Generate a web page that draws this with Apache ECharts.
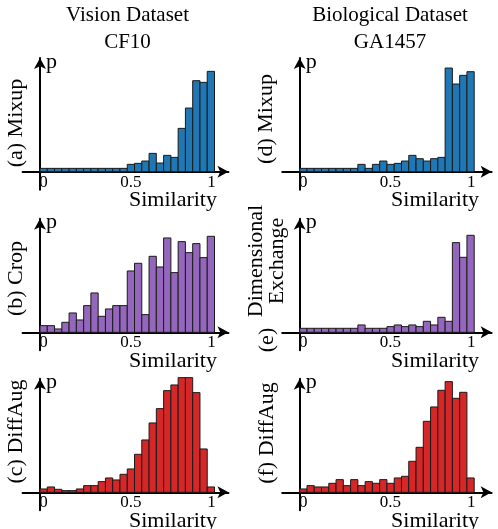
<!DOCTYPE html>
<html>
<head>
<meta charset="utf-8">
<script src="https://cdn.jsdelivr.net/npm/echarts@6/dist/echarts.min.js"></script>
<style>
html, body { margin: 0; padding: 0; background: #fff; }
#chart01 { width: 498px; height: 529px; }
</style>
</head>
<body>
<div id="chart01"></div>
<script>
// histogram heights (relative units), 24 equal bins over similarity 0..1
var binCount = 24;
var cf10Mixup     = [10, 10, 10, 10, 10, 10, 10, 10, 10, 10, 10, 10, 22, 25, 32, 55, 26, 49, 43, 130, 191, 273, 268, 301];
var cf10Crop      = [20, 20, 10, 30, 58, 37, 80, 118, 48, 70, 80, 80, 184, 207, 53, 228, 196, 283, 179, 272, 239, 266, 224, 288];
var cf10DiffAug   = [10, 16, 9, 5, 5, 10, 20, 20, 32, 43, 37, 54, 70, 114, 157, 208, 251, 305, 322, 344, 344, 299, 130, 16];
var ga1457Mixup   = [10, 10, 10, 10, 10, 10, 10, 10, 22, 10, 22, 32, 22, 25, 32, 49, 39, 32, 39, 43, 311, 263, 289, 300];
var ga1457DimEx   = [12, 12, 12, 12, 12, 12, 12, 12, 22, 12, 12, 12, 17, 22, 17, 22, 17, 33, 22, 45, 33, 269, 225, 291];
var ga1457DiffAug = [10, 20, 16, 16, 27, 38, 20, 38, 20, 32, 27, 38, 27, 43, 48, 93, 135, 213, 256, 306, 332, 282, 300, 43];

var tickValues = [0, 0.5, 1];
var tickLabels = ['0', '0.5', '1'];
var columnTitles = ['Vision Dataset\nCF10', 'Biological Dataset\nGA1457'];
var panelNames = ['(a) Mixup', '(b) Crop', '(c) DiffAug', '(d) Mixup', 'Dimensional\nExchange', '(f) DiffAug'];
var panelData = [cf10Mixup, cf10Crop, cf10DiffAug, ga1457Mixup, ga1457DimEx, ga1457DiffAug];
var panelColors = ['#1f77b4', '#9467bd', '#d62728', '#1f77b4', '#9467bd', '#d62728'];

function renderBin(params, api) {
    var lo = api.coord([api.value(0), 0]);
    var hi = api.coord([api.value(1), api.value(2)]);
    return {
        type: 'rect',
        shape: { x: lo[0], y: hi[1], width: hi[0] - lo[0], height: lo[1] - hi[1] },
        style: { fill: api.visual('color'), stroke: '#1a1a1a', lineWidth: 1 }
    };
}

function chart01(id) {
    var myChart = echarts.init(document.getElementById(id));
    var font = 'Liberation Serif';
    var xScale = 174.5;                 // px per unit of similarity
    var colAxisX = [40, 299.7];
    var colXMax = [1.08, 1.1];
    var rowAxisY = [171.7, 332.3, 492.3];
    var yMin = -54, yMax = 341, yPx = 1 / 3;
    var sideLabelPos = [[16, 123], [16.5, 278.5], [16, 431.5], [266.5, 119], [267, 261], [267, 433]];

    var grid = [], xAxis = [], yAxis = [], series = [], graphic = [];
    panelData.forEach(function (values, i) {
        var col = Math.floor(i / 3), row = i % 3;
        grid.push({
            left: colAxisX[col] - 0.1 * xScale,
            width: (colXMax[col] + 0.1) * xScale,
            top: rowAxisY[row] - yMax * yPx,
            height: (yMax - yMin) * yPx,
            containLabel: false,
            outerBoundsMode: 'none'
        });
        xAxis.push({
            type: 'value',
            gridIndex: i,
            min: -0.1,
            max: colXMax[col],
            interval: 0.1,
            name: 'Similarity',
            nameLocation: 'end',
            nameGap: col === 0 ? -11.5 : -12.6,
            nameMoveOverlap: false,
            nameTextStyle: {
                fontFamily: font, fontSize: 22, lineHeight: 22, color: '#000',
                align: 'right', verticalAlign: 'top', padding: [18, 0, 0, 0]
            },
            axisLine: {
                show: true,
                onZero: true,
                symbol: ['none', 'arrow'],
                symbolSize: [9, 11],
                lineStyle: { color: '#000', width: 2 }
            },
            axisTick: { show: false },
            splitLine: { show: false },
            axisLabel: {
                margin: -16,
                fontFamily: font, fontSize: 17, lineHeight: 17, color: '#000',
                formatter: function (v) {
                    for (var k = 0; k < tickValues.length; k++) {
                        if (Math.abs(v - tickValues[k]) < 1e-6) return '{t' + k + '|' + tickLabels[k] + '}';
                    }
                    return '';
                },
                rich: {
                    t0: { fontFamily: font, fontSize: 17, color: '#000', padding: [0, 0, 0, 7] },
                    t1: { fontFamily: font, fontSize: 17, color: '#000', padding: [0, 0, 0, 7] },
                    t2: { fontFamily: font, fontSize: 17, color: '#000', padding: [0, 6, 0, 0] }
                }
            }
        });
        yAxis.push({
            type: 'value',
            gridIndex: i,
            min: yMin,
            max: yMax,
            name: 'p',
            nameLocation: 'end',
            nameGap: -4,
            nameMoveOverlap: false,
            nameTextStyle: {
                fontFamily: font, fontSize: 22, color: '#000',
                align: 'left', verticalAlign: 'middle', padding: [0, 0, 0, 6]
            },
            axisLine: {
                show: true,
                onZero: true,
                symbol: ['none', 'arrow'],
                symbolSize: [9, 11],
                lineStyle: { color: '#000', width: 2 }
            },
            axisTick: { show: false },
            axisLabel: { show: false },
            splitLine: { show: false }
        });
        series.push({
            type: 'custom',
            xAxisIndex: i,
            yAxisIndex: i,
            itemStyle: { color: panelColors[i] },
            renderItem: renderBin,
            data: values.map(function (v, b) {
                return [b / binCount, (b + 1) / binCount, v];
            })
        });
        graphic.push({
            type: 'text',
            x: sideLabelPos[i][0],
            y: sideLabelPos[i][1],
            rotation: Math.PI / 2,
            style: {
                text: panelNames[i],
                fontFamily: font, fontSize: 22, lineHeight: 21, fill: '#000',
                align: 'center', verticalAlign: 'middle',
                textAlign: 'center', textVerticalAlign: 'middle'
            }
        });
    });
    // "(e)" sits below the two-line label of panel (e)
    graphic.push({
        type: 'text',
        x: 267,
        y: 340,
        rotation: Math.PI / 2,
        style: {
            text: '(e)',
            fontFamily: font, fontSize: 22, fill: '#000',
            align: 'center', verticalAlign: 'middle',
            textAlign: 'center', textVerticalAlign: 'middle'
        }
    });

    var option = {
        backgroundColor: '#fff',
        animation: false,
        title: columnTitles.map(function (t, c) {
            return {
                text: t,
                left: c === 0 ? 127.5 : 390,
                top: 2,
                padding: 0,
                textAlign: 'center',
                textStyle: { fontFamily: font, fontSize: 21, lineHeight: 27, fontWeight: 'normal', color: '#000' }
            };
        }),
        grid: grid,
        xAxis: xAxis,
        yAxis: yAxis,
        series: series,
        graphic: graphic
    };

    myChart.setOption(option);
    return myChart;
}

var chartInit01 = chart01('chart01');
window.addEventListener('resize', function () {
    chartInit01.resize();
});
</script>
</body>
</html>
